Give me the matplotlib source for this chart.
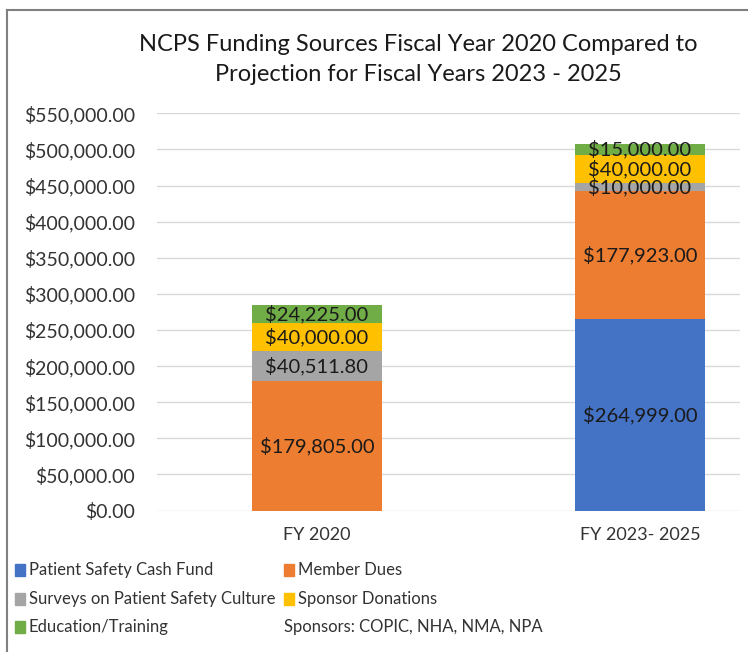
import matplotlib
matplotlib.use('Agg')
import matplotlib.pyplot as plt
from matplotlib.ticker import FuncFormatter
from matplotlib.patches import Rectangle
from matplotlib.lines import Line2D

plt.rcParams['font.family'] = ['Lato', 'DejaVu Sans']

categories = ['FY 2020', 'FY 2023- 2025']
series = ['Patient Safety Cash Fund', 'Member Dues', 'Surveys on Patient Safety Culture',
          'Sponsor Donations', 'Education/Training']
cash_fund = [0, 264999]
member_dues = [179805, 177923]
surveys = [40511.80, 10000]
sponsor_donations = [40000, 40000]
education = [24225, 15000]
colors = ['#4472C4', '#ED7D31', '#A5A5A5', '#FFC000', '#70AD47']
sponsors_note = 'Sponsors: COPIC, NHA, NMA, NPA'

W, H = 748, 652
fig = plt.figure(figsize=(W / 100, H / 100), dpi=100)
ax = fig.add_axes([157 / W, 1 - 510.5 / H, (740 - 157) / W, (510.5 - 113.3) / H])

x = range(len(categories))
bottom = [0, 0]
for vals, c in zip([cash_fund, member_dues, surveys, sponsor_donations, education], colors):
    bars = ax.bar(x, vals, 0.4, bottom=bottom, color=c, zorder=2)
    labs = ['${:,.2f}'.format(v) if v > 0 else '' for v in vals]
    ax.bar_label(bars, labels=labs, label_type='center', fontsize=14.5, color='#1a1a1a')
    bottom = [b + v for b, v in zip(bottom, vals)]

ax.set_xlim(-160 / 323, 1 + 100 / 323)
ax.set_ylim(0, 550000)
ax.set_yticks(range(0, 550001, 50000))
ax.yaxis.set_major_formatter(FuncFormatter(lambda v, p: '${:,.2f}'.format(v)))
ax.set_xticks(list(x))
ax.set_xticklabels(categories)
ax.grid(axis='y', color='#D9D9D9', lw=1, zorder=0)
ax.set_axisbelow(True)
for s in ax.spines.values():
    s.set_visible(False)
ax.tick_params(axis='y', length=0, pad=16, labelsize=14, labelcolor='#333333')
ax.tick_params(axis='x', length=0, pad=12, labelsize=13, labelcolor='#333333')

fig.text(418 / W, 1 - 59.5 / H,
         'NCPS Funding Sources Fiscal Year 2020 Compared to\nProjection for Fiscal Years 2023 - 2025',
         ha='center', va='center', fontsize=17, color='#1a1a1a', linespacing=1.5)

# legend laid out like the original (two columns, note in the last slot)
leg_pos = [(15, 570), (284, 570), (15, 599), (284, 599), (15, 627)]
for name, c, (lx, ly) in zip(series, colors, leg_pos):
    fig.add_artist(Rectangle((lx / W, 1 - (ly + 6) / H), 10 / W, 12 / H,
                             transform=fig.transFigure, color=c))
    fig.text((lx + 14) / W, 1 - ly / H, name, ha='left', va='center',
             fontsize=12, color='#333333')
fig.text(284 / W, 1 - 627 / H, sponsors_note, ha='left', va='center',
         fontsize=12, color='#333333')

# outer chart border
fig.add_artist(Line2D([7 / W, 1], [1 - 10 / H, 1 - 10 / H], transform=fig.transFigure,
                      color='#808080', lw=1.5))
fig.add_artist(Line2D([7 / W, 7 / W], [0, 1 - 10 / H], transform=fig.transFigure,
                      color='#808080', lw=1.5))

fig.savefig('out.png', dpi=100)
